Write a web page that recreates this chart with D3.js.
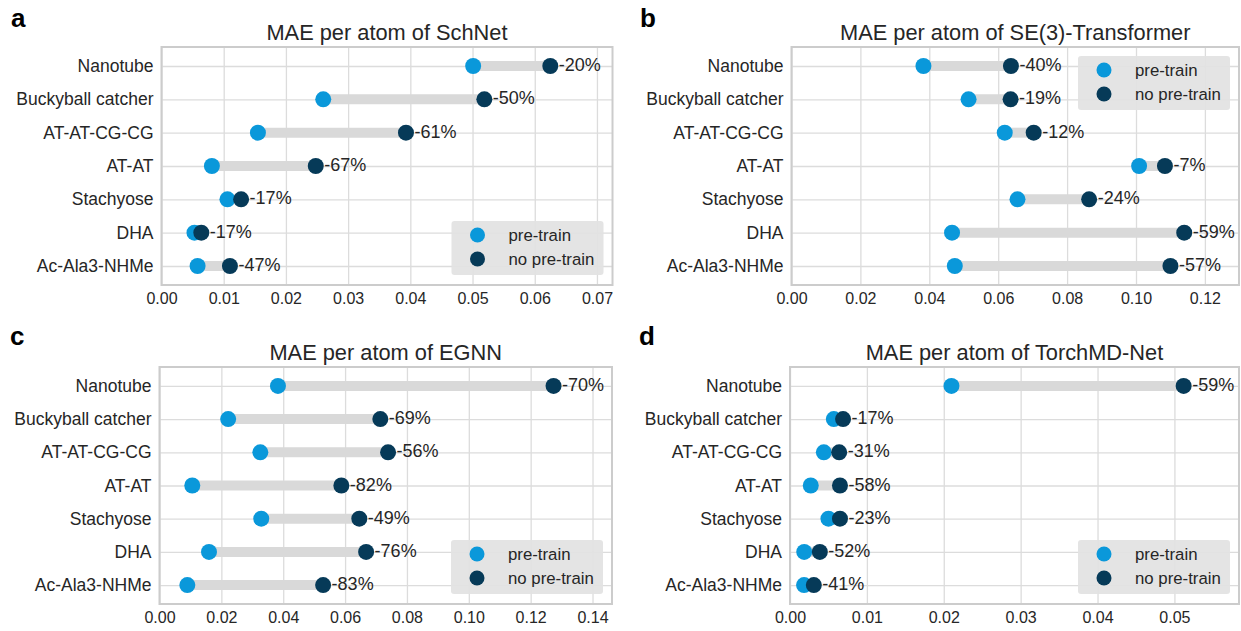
<!DOCTYPE html>
<html>
<head>
<meta charset="utf-8">
<script src="https://cdn.jsdelivr.net/npm/d3@7"></script>
<style>
  html, body { margin: 0; padding: 0; background: #ffffff; }
  svg { display: block; font-family: "Liberation Sans", Arial, Helvetica, sans-serif; }
</style>
</head>
<body>
<svg id="chart" width="1241" height="631"></svg>
<script>
// Molecules shown on every panel (top to bottom)
const molecules = ["Nanotube", "Buckyball catcher", "AT-AT-CG-CG", "AT-AT", "Stachyose", "DHA", "Ac-Ala3-NHMe"];
const seriesNames = ["pre-train", "no pre-train"];

// MAE per atom, SchNet
const schnetPre = [0.0501, 0.0260, 0.0155, 0.0081, 0.0106, 0.0053, 0.0058];
const schnetNo  = [0.0625, 0.0519, 0.0393, 0.0248, 0.0128, 0.0064, 0.0110];
const schnetTicks = [0, 0.01, 0.02, 0.03, 0.04, 0.05, 0.06, 0.07];

// MAE per atom, SE(3)-Transformer
const se3Pre = [0.0383, 0.0514, 0.0619, 0.1009, 0.0656, 0.0466, 0.0474];
const se3No  = [0.0637, 0.0636, 0.0703, 0.1084, 0.0864, 0.1140, 0.1100];
const se3Ticks = [0, 0.02, 0.04, 0.06, 0.08, 0.10, 0.12];

// MAE per atom, EGNN
const egnnPre = [0.0383, 0.0222, 0.0326, 0.0106, 0.0329, 0.0160, 0.0090];
const egnnNo  = [0.1274, 0.0714, 0.0739, 0.0588, 0.0646, 0.0668, 0.0529];
const egnnTicks = [0, 0.02, 0.04, 0.06, 0.08, 0.10, 0.12, 0.14];

// MAE per atom, TorchMD-Net
const torchPre = [0.0210, 0.0057, 0.0044, 0.0027, 0.0050, 0.00185, 0.00183];
const torchNo  = [0.0512, 0.0069, 0.0064, 0.0065, 0.0065, 0.00388, 0.0031];
const torchTicks = [0, 0.01, 0.02, 0.03, 0.04, 0.05];

const COLORS = { pre: "#0a98da", no: "#063a58", seg: "#d9d9d9", grid: "#dcdcdc", frame: "#cccccc", text: "#262626" };
const FONT = "Liberation Sans, Arial, sans-serif";

const panels = [
  { letter: "a", title: "MAE per atom of SchNet", pre: schnetPre, no: schnetNo, ticks: schnetTicks, xMax: 0.0725,
    box: { x0: 161.5, x1: 612.5, y0: 47, y1: 285 }, letterPos: [11, 27], legend: "bottom" },
  { letter: "b", title: "MAE per atom of SE(3)-Transformer", pre: se3Pre, no: se3No, ticks: se3Ticks, xMax: 0.1299,
    box: { x0: 791.5, x1: 1239, y0: 47, y1: 285 }, letterPos: [640, 27], legend: "top" },
  { letter: "c", title: "MAE per atom of EGNN", pre: egnnPre, no: egnnNo, ticks: egnnTicks, xMax: 0.1463,
    box: { x0: 159.5, x1: 612, y0: 367, y1: 604 }, letterPos: [10, 345], legend: "bottom" },
  { letter: "d", title: "MAE per atom of TorchMD-Net", pre: torchPre, no: torchNo, ticks: torchTicks, xMax: 0.0584,
    box: { x0: 790, x1: 1239, y0: 367, y1: 604 }, letterPos: [639, 345], legend: "bottom" }
];

const svg = d3.select("#chart");
svg.append("rect").attr("width", 1241).attr("height", 631).attr("fill", "#ffffff");

const R = 8;

panels.forEach(p => {
  const b = p.box;
  const g = svg.append("g");
  const x = d3.scaleLinear().domain([0, p.xMax]).range([b.x0, b.x1]);
  const y = d3.scalePoint().domain(molecules).range([b.y0, b.y1]).padding(0.57);

  // panel letter
  g.append("text").attr("x", p.letterPos[0]).attr("y", p.letterPos[1])
    .attr("font-size", 26).attr("font-weight", "bold").attr("fill", "#000").text(p.letter);

  // title
  g.append("text").attr("x", (b.x0 + b.x1) / 2).attr("y", b.y0 - 7)
    .attr("text-anchor", "middle").attr("font-size", 21.8).attr("fill", COLORS.text).text(p.title);

  // vertical grid + x tick labels
  const xAxis = d3.axisBottom(x).tickValues(p.ticks).tickFormat(d3.format(".2f"))
    .tickSize(-(b.y1 - b.y0)).tickPadding(8);
  const ax = g.append("g").attr("transform", `translate(0,${b.y1})`).call(xAxis);
  ax.select(".domain").remove();
  ax.selectAll(".tick line").attr("stroke", COLORS.grid).attr("stroke-width", 1.3);
  ax.selectAll(".tick text").attr("font-size", 16).attr("fill", COLORS.text).attr("font-family", FONT);

  // horizontal grid + category labels
  const yAxis = d3.axisLeft(y).tickSize(-(b.x1 - b.x0)).tickPadding(8);
  const ay = g.append("g").attr("transform", `translate(${b.x0},0)`).call(yAxis);
  ay.select(".domain").remove();
  ay.selectAll(".tick line").attr("stroke", COLORS.grid).attr("stroke-width", 1.3);
  ay.selectAll(".tick text").attr("font-size", 17.5).attr("fill", COLORS.text).attr("font-family", FONT);

  // frame
  g.append("rect").attr("x", b.x0).attr("y", b.y0).attr("width", b.x1 - b.x0).attr("height", b.y1 - b.y0)
    .attr("fill", "none").attr("stroke", COLORS.frame).attr("stroke-width", 2);

  const rows = molecules.map((m, i) => ({ m, pre: p.pre[i], no: p.no[i] }));

  // connecting bars
  g.selectAll("line.seg").data(rows).join("line").attr("class", "seg")
    .attr("x1", d => x(d.pre)).attr("x2", d => x(d.no))
    .attr("y1", d => y(d.m)).attr("y2", d => y(d.m))
    .attr("stroke", COLORS.seg).attr("stroke-width", 10);

  // pre-train dots
  g.selectAll("circle.pre").data(rows).join("circle").attr("class", "pre")
    .attr("cx", d => x(d.pre)).attr("cy", d => y(d.m)).attr("r", R).attr("fill", COLORS.pre);

  // no pre-train dots
  g.selectAll("circle.no").data(rows).join("circle").attr("class", "no")
    .attr("cx", d => x(d.no)).attr("cy", d => y(d.m)).attr("r", R).attr("fill", COLORS.no);

  // relative change labels
  g.selectAll("text.pct").data(rows).join("text").attr("class", "pct")
    .attr("x", d => x(d.no) + R + 0.5).attr("y", d => y(d.m) - 1)
    .attr("dominant-baseline", "central").attr("font-size", 18).attr("fill", COLORS.text)
    .text(d => `-${Math.round((1 - d.pre / d.no) * 100)}%`);

  // legend
  const lw = 152, lh = 54;
  const lx = b.x1 - 9 - lw;
  const ly = p.legend === "top" ? b.y0 + 9 : b.y1 - 10 - lh;
  const lg = g.append("g").attr("transform", `translate(${lx},${ly})`);
  lg.append("rect").attr("width", lw).attr("height", lh).attr("rx", 3)
    .attr("fill", "#e2e2e2").attr("fill-opacity", 0.92);
  const items = [{ name: seriesNames[0], color: COLORS.pre }, { name: seriesNames[1], color: COLORS.no }];
  items.forEach((it, i) => {
    lg.append("circle").attr("cx", 26).attr("cy", 14 + i * 24).attr("r", 7.5).attr("fill", it.color);
    lg.append("text").attr("x", 57).attr("y", 14 + i * 24).attr("dominant-baseline", "central")
      .attr("font-size", 16.8).attr("fill", COLORS.text).text(it.name);
  });
});
</script>
</body>
</html>
